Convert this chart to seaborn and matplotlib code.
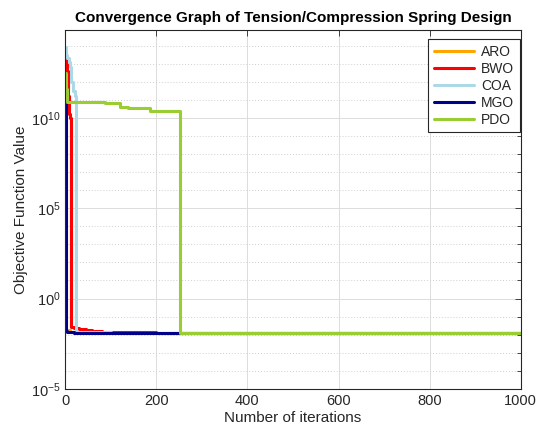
import numpy as np
import pandas as pd
import matplotlib
matplotlib.use("Agg")
import matplotlib.pyplot as plt
import matplotlib.ticker as mticker
import seaborn as sns

algorithms = ["ARO", "BWO", "COA", "MGO", "PDO"]
colors = ["#FFA500", "#FF0000", "#ADD8E6", "#00008B", "#9ACD32"]

aro_iter = [1, 2, 3, 10, 30, 100, 300, 1000]
aro_val = [10**11.0, 10**8.5, 0.018, 0.015, 0.014, 0.0132, 0.01275, 0.01272]

bwo_iter = [1, 3, 5, 7, 9, 11, 12, 20, 30, 45, 60, 80, 100, 130, 200, 1000]
bwo_val = [10**13.3, 10**13.0, 10**12.6, 10**11.2, 10**10.2, 10**10.0, 0.028,
           0.024, 0.021, 0.018, 0.0165, 0.015, 0.014, 0.0133, 0.0129, 0.01272]

coa_iter = [1, 3, 5, 8, 11, 14, 18, 22, 24, 100, 1000]
coa_val = [10**13.9, 10**13.5, 10**13.3, 10**13.1, 10**12.8, 10**12.0,
           10**11.5, 10**11.2, 0.0135, 0.0128, 0.01268]

mgo_iter = [1, 2, 3, 5, 20, 100, 1000]
mgo_val = [10**11.5, 10**9.0, 0.016, 0.0135, 0.013, 0.01268, 0.012665]

pdo_iter = [1, 2, 4, 87, 120, 138, 186, 252, 1000]
pdo_val = [10**12.5, 10**11.6, 10**10.9, 10**10.8, 10**10.6, 10**10.55,
           10**10.4, 0.012666, 0.012665]

series = {
    "ARO": (aro_iter, aro_val),
    "BWO": (bwo_iter, bwo_val),
    "COA": (coa_iter, coa_val),
    "MGO": (mgo_iter, mgo_val),
    "PDO": (pdo_iter, pdo_val),
}

rows = []
for name in algorithms:
    its, vals = series[name]
    for i, v in zip(its, vals):
        rows.append({"Algorithm": name, "Iteration": i, "Value": v})
df = pd.DataFrame(rows)

sns.set_theme(style="white")
plt.rcParams["font.family"] = ["Liberation Sans", "DejaVu Sans"]
plt.rcParams["mathtext.fontset"] = "custom"
plt.rcParams["mathtext.rm"] = "Liberation Sans"
plt.rcParams["mathtext.it"] = "Liberation Sans:italic"

fig = plt.figure(figsize=(5.38, 4.37), dpi=100)
ax = fig.add_axes([0.121, 0.110, 0.847, 0.821])

sns.lineplot(data=df, x="Iteration", y="Value", hue="Algorithm",
             hue_order=algorithms, palette=colors, estimator=None, sort=False,
             drawstyle="steps-post", linewidth=2.2, ax=ax)

ax.set_yscale("log")
ax.set_xlim(0, 1000)
ax.set_ylim(1e-5, 10**14.85)
ax.set_xticks([0, 200, 400, 600, 800, 1000])
ax.yaxis.set_major_locator(mticker.FixedLocator([1e-5, 1e0, 1e5, 1e10]))
ax.yaxis.set_minor_locator(mticker.FixedLocator([10.0**k for k in range(-5, 15)]))
ax.yaxis.set_minor_formatter(mticker.NullFormatter())

ax.grid(True, which="major", axis="both", color="#dcdcdc", linewidth=0.7, linestyle="-")
ax.grid(True, which="minor", axis="y", color="#cfcfcf", linewidth=0.7, linestyle=(0, (1, 2)))
ax.set_axisbelow(True)

for s in ax.spines.values():
    s.set_color("#262626")
    s.set_linewidth(0.8)
ax.tick_params(which="both", direction="in", top=True, right=True,
               colors="#262626", labelsize=10.5, labelcolor="#262626", width=0.6)
ax.tick_params(which="major", length=4)
ax.tick_params(which="minor", length=3)

ax.set_title("Convergence Graph of Tension/Compression Spring Design",
             fontsize=11, fontweight="bold", color="black", pad=6)
ax.set_xlabel("Number of iterations", fontsize=11, color="#262626", labelpad=2)
ax.set_ylabel("Objective Function Value", fontsize=11, color="#262626", labelpad=2)

leg = ax.legend(loc="upper right", fontsize=10, frameon=True, fancybox=False,
                edgecolor="#262626", framealpha=1, handlelength=2.9,
                borderpad=0.4, labelspacing=0.22, handletextpad=0.5,
                borderaxespad=0, bbox_to_anchor=(0.998, 0.975))
leg.get_frame().set_linewidth(0.8)
for line in leg.get_lines():
    line.set_linewidth(2.2)

fig.savefig("out.png", dpi=100)
